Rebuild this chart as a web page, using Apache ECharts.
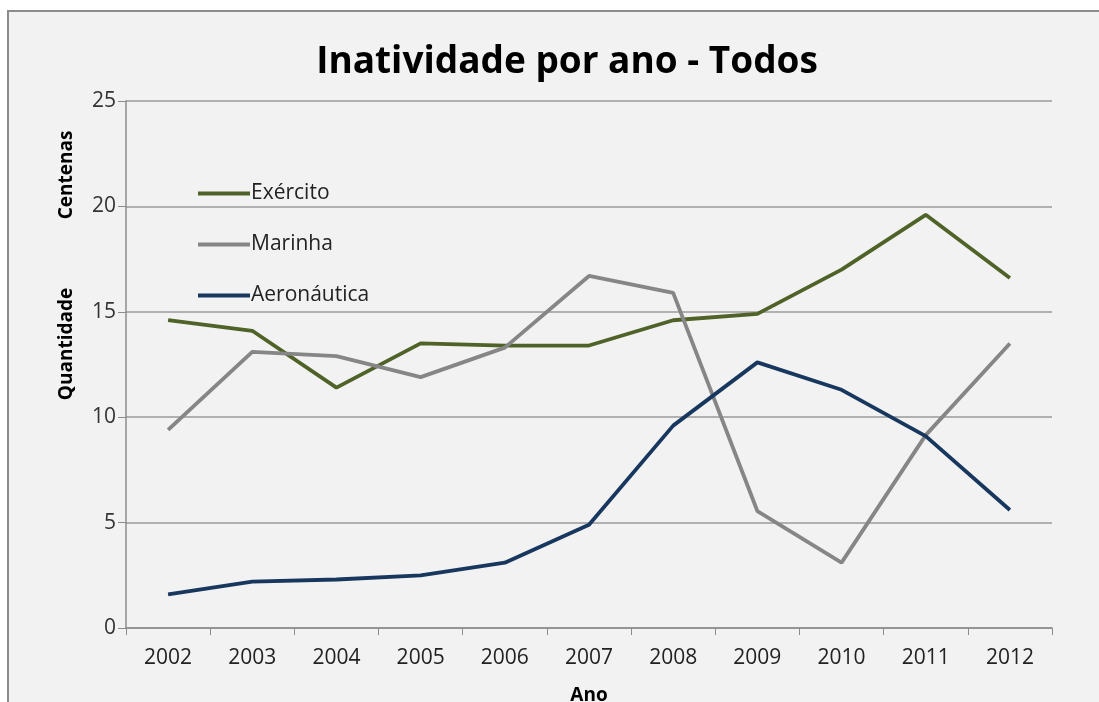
<!DOCTYPE html>
<html>
<head>
<meta charset="utf-8">
<script src="https://cdn.jsdelivr.net/npm/echarts@6/dist/echarts.min.js"></script>
<style>
  html, body { margin: 0; padding: 0; background: #fff; }
  #container { width: 1099px; height: 702px; }
</style>
</head>
<body>
<div id="container"></div>
<script>
var years = ['2002', '2003', '2004', '2005', '2006', '2007', '2008', '2009', '2010', '2011', '2012'];
var exercito = [14.6, 14.1, 11.4, 13.5, 13.4, 13.4, 14.6, 14.9, 17.0, 19.6, 16.6];
var marinha = [9.4, 13.1, 12.9, 11.9, 13.3, 16.7, 15.9, 5.55, 3.1, 9.15, 13.5];
var aeronautica = [1.6, 2.2, 2.3, 2.5, 3.1, 4.9, 9.6, 12.6, 11.3, 9.1, 5.6];

var font = 'Open Sans';
var dom = document.getElementById('container');
var myChart = echarts.init(dom);

function serie(name, values, color) {
  return {
    name: name,
    type: 'line',
    data: values,
    symbol: 'none',
    lineStyle: { color: color, width: 3.8 },
    itemStyle: { color: color }
  };
}

var option = {
  backgroundColor: '#fff',
  animation: false,
  graphic: [
    {
      type: 'rect',
      z: -10,
      shape: { x: 8, y: 11, width: 1100, height: 700 },
      style: { fill: '#f2f2f2', stroke: '#8c8c8c', lineWidth: 2 }
    },
    {
      type: 'text',
      x: 67, y: 344, rotation: Math.PI / 2,
      style: { text: 'Quantidade', font: 'bold 19px "Open Sans"', fill: '#000', align: 'center', verticalAlign: 'middle' }
    },
    {
      type: 'text',
      x: 67, y: 175, rotation: Math.PI / 2,
      style: { text: 'Centenas', font: 'bold 19px "Open Sans"', fill: '#000', align: 'center', verticalAlign: 'middle' }
    }
  ],
  title: {
    text: 'Inatividade por ano - Todos',
    left: 562,
    textAlign: 'center',
    top: 39,
    textStyle: { fontFamily: font, fontSize: 37, fontWeight: 'bold', color: '#000' }
  },
  legend: {
    orient: 'vertical',
    left: 193,
    top: 178,
    itemGap: 30,
    itemWidth: 52,
    itemHeight: 4,
    icon: 'rect',
    textStyle: { fontFamily: font, fontSize: 21, color: '#222', padding: [0, 0, 0, -4] },
    data: ['Exército', 'Marinha', 'Aeronáutica']
  },
  grid: { left: 126, right: 47, top: 101, bottom: 74, outerBoundsMode: 'none' },
  xAxis: {
    type: 'category',
    data: years,
    boundaryGap: true,
    name: 'Ano',
    nameLocation: 'middle',
    nameGap: 58,
    nameTextStyle: { fontFamily: font, fontSize: 19, fontWeight: 'bold', color: '#000' },
    axisLine: { lineStyle: { color: '#8c8c8c', width: 1.5 } },
    axisTick: { show: true, length: 7, alignWithLabel: false, lineStyle: { color: '#8c8c8c' } },
    axisLabel: { fontFamily: font, fontSize: 21, color: '#222', margin: 20 }
  },
  yAxis: {
    type: 'value',
    min: 0,
    max: 25,
    interval: 5,
    axisLine: { show: true, lineStyle: { color: '#8c8c8c', width: 1.5 } },
    axisTick: { show: true, length: 8, lineStyle: { color: '#8c8c8c' } },
    axisLabel: { fontFamily: font, fontSize: 21, color: '#333', margin: 10 },
    splitLine: { lineStyle: { color: '#9a9a9a', width: 1.5 } }
  },
  series: [
    serie('Exército', exercito, '#4f6228'),
    serie('Marinha', marinha, '#868686'),
    serie('Aeronáutica', aeronautica, '#17375e')
  ]
};
myChart.setOption(option, true);
</script>
</body>
</html>
